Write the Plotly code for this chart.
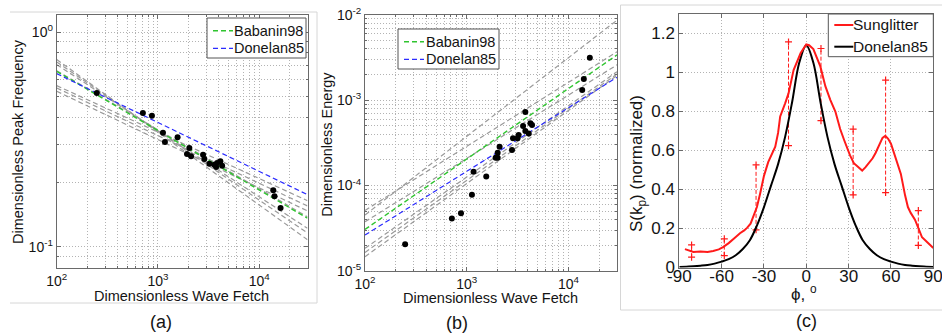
import math
import plotly.graph_objects as go

W, H = 942, 333


def px(x):
    return x / W


def py(y):
    return 1 - y / H


# ---------------- data: panel (a) ----------------
fetch_a = [249, 710, 872, 1121, 1172, 1563, 2042, 1936, 2123, 2790, 2874, 3220,
           3608, 3750, 3838, 4137, 4305, 13770, 14170, 16260]
freq_a = [0.520, 0.420, 0.408, 0.340, 0.308, 0.3235, 0.2887, 0.2708, 0.2638, 0.2687,
          0.2566, 0.244, 0.2414, 0.2355, 0.2459, 0.250, 0.2388, 0.1834, 0.1719, 0.1518]

fetch_ends = [100, 30000]
babanin_fp = [0.656, 0.136]
donelan_fp = [0.640, 0.175]
gray_fp = [[0.745, 0.108], [0.725, 0.116], [0.705, 0.122], [0.660, 0.138],
           [0.563, 0.164], [0.549, 0.155], [0.530, 0.147]]

# ---------------- data: panel (b) ----------------
fetch_b = [248, 714, 878, 1125, 1167, 1556, 2104, 2014, 1923, 2014, 2786, 2851, 3162,
           3236, 3581, 3767, 3767, 4064, 4227, 4385, 13650, 14160, 16220]
energy_b = [2.04e-5, 4.11e-5, 4.71e-5, 7.78e-5, 1.45e-4, 1.27e-4, 2.85e-4, 2.42e-4,
            2.12e-4, 2.12e-4, 2.60e-4, 3.57e-4, 3.57e-4, 3.91e-4, 4.98e-4, 4.36e-4,
            7.28e-4, 4.08e-4, 5.36e-4, 5.12e-4, 1.32e-3, 1.77e-3, 3.16e-3]

babanin_e = [3.05e-5, 3.40e-3]
donelan_e = [2.62e-5, 1.86e-3]
gray_e = [[5.1e-5, 3.7e-3], [4.5e-5, 8.7e-3], [3.75e-5, 2.6e-3],
          [1.83e-5, 2.16e-3], [1.64e-5, 2.03e-3], [1.46e-5, 1.95e-3]]

# ---------------- data: panel (c) ----------------
phi_sun = [-86, -80, -75, -70, -66, -62, -59, -55, -51, -47, -44, -42, -39.5, -37.5,
           -35, -32.7, -30, -27, -25, -22, -20, -18.5, -15, -12.6, -9, -6, -4, 0, 2,
           5, 8, 10, 13.5, 17, 20.6, 24, 27, 29, 31, 33.7, 36, 39.6, 42, 44.3, 47,
           49, 52, 54, 56, 58, 60, 63, 65, 67, 70, 72, 74, 77, 79, 82, 85, 90]
s_sun = [0.094, 0.080, 0.082, 0.080, 0.085, 0.093, 0.105, 0.125, 0.150, 0.176, 0.190,
         0.203, 0.225, 0.260, 0.310, 0.380, 0.470, 0.540, 0.575, 0.620, 0.690, 0.775,
         0.842, 0.893, 1.012, 1.065, 1.100, 1.144, 1.140, 1.120, 1.070, 1.030, 0.930,
         0.860, 0.800, 0.710, 0.650, 0.610, 0.575, 0.535, 0.520, 0.497, 0.515, 0.535,
         0.560, 0.586, 0.630, 0.665, 0.675, 0.660, 0.635, 0.565, 0.520, 0.480, 0.370,
         0.310, 0.280, 0.245, 0.210, 0.155, 0.135, 0.100]

phi_don = [-90, -85, -80, -75, -70, -65, -60, -55, -50, -45, -40, -35, -30, -25, -20,
           -15, -10, -5, 0, 5, 10, 15, 20, 25, 30, 35, 40, 45, 50, 55, 60, 65, 70, 75,
           80, 85, 90]
s_don = [0.002, 0.004, 0.006, 0.009, 0.013, 0.020, 0.030, 0.043, 0.063, 0.095, 0.140,
         0.215, 0.310, 0.420, 0.530, 0.670, 0.850, 1.050, 1.140, 1.050, 0.850, 0.670,
         0.530, 0.420, 0.310, 0.215, 0.140, 0.095, 0.063, 0.043, 0.030, 0.020, 0.013,
         0.009, 0.006, 0.004, 0.002]

err_phi = [-81.3, -58.1, -35.6, -12.6, 10.4, 33.2, 56.2, 79.4]
err_hi = [0.116, 0.147, 0.526, 1.157, 1.123, 0.710, 0.961, 0.292]
err_lo = [0.053, 0.061, 0.193, 0.625, 0.753, 0.372, 0.384, 0.113]

# ---------------- styles ----------------
FONT = "Liberation Sans, Arial, sans-serif"
TXT = "#141414"
GRID = "#b3b3b3"
GRIDDASH = "1px,2px"
AXL = "#6a6a6a"
GREEN = "#2fc42f"
BLUE = "#2b2bff"
GRAY = "#9a9a9a"
RED = "#ff1a1a"
DASH = "5px,3px"

fig = go.Figure()

# panel (a)
for g in gray_fp:
    fig.add_trace(go.Scatter(x=fetch_ends, y=g, mode="lines", xaxis="x", yaxis="y",
                             line=dict(color=GRAY, width=1.2, dash=DASH), showlegend=False))
fig.add_trace(go.Scatter(x=fetch_ends, y=babanin_fp, mode="lines", name="Babanin98",
                         xaxis="x", yaxis="y", line=dict(color=GREEN, width=1.4, dash=DASH),
                         showlegend=False))
fig.add_trace(go.Scatter(x=fetch_ends, y=donelan_fp, mode="lines", name="Donelan85",
                         xaxis="x", yaxis="y", line=dict(color=BLUE, width=1.2, dash=DASH),
                         showlegend=False))
fig.add_trace(go.Scatter(x=fetch_a, y=freq_a, mode="markers", xaxis="x", yaxis="y",
                         marker=dict(color="black", size=6), showlegend=False))

# panel (b)
for g in gray_e:
    fig.add_trace(go.Scatter(x=fetch_ends, y=g, mode="lines", xaxis="x2", yaxis="y2",
                             line=dict(color=GRAY, width=1.2, dash=DASH), showlegend=False))
fig.add_trace(go.Scatter(x=fetch_ends, y=babanin_e, mode="lines", name="Babanin98",
                         xaxis="x2", yaxis="y2", line=dict(color=GREEN, width=1.4, dash=DASH),
                         showlegend=False))
fig.add_trace(go.Scatter(x=fetch_ends, y=donelan_e, mode="lines", name="Donelan85",
                         xaxis="x2", yaxis="y2", line=dict(color=BLUE, width=1.2, dash=DASH),
                         showlegend=False))
fig.add_trace(go.Scatter(x=fetch_b, y=energy_b, mode="markers", xaxis="x2", yaxis="y2",
                         marker=dict(color="black", size=6), showlegend=False))

# panel (c)
ex, ey = [], []
for p, lo, hi in zip(err_phi, err_lo, err_hi):
    ex += [p, p, None]
    ey += [lo, hi, None]
fig.add_trace(go.Scatter(x=ex, y=ey, mode="lines+markers", xaxis="x3", yaxis="y3",
                         line=dict(color=RED, width=1, dash="4px,2px"),
                         marker=dict(symbol="cross-thin", size=5,
                                     line=dict(color=RED, width=1.2)),
                         showlegend=False))
fig.add_trace(go.Scatter(x=phi_don, y=s_don, mode="lines", name="Donelan85",
                         xaxis="x3", yaxis="y3", line=dict(color="black", width=2, shape="spline"),
                         showlegend=False))
fig.add_trace(go.Scatter(x=phi_sun, y=s_sun, mode="lines", name="Sunglitter",
                         xaxis="x3", yaxis="y3", line=dict(color=RED, width=2),
                         showlegend=False))


def sup(s):
    return "10<sup>%s</sup>" % s


common = dict(showline=True, mirror="ticks", linecolor=AXL, linewidth=1,
              ticks="inside", ticklen=4, tickcolor=AXL, showgrid=True,
              gridcolor=GRID, griddash=GRIDDASH, gridwidth=1, zeroline=False,
              automargin=False, ticklabeloverflow="allow",
              tickfont=dict(family=FONT, size=14, color=TXT))

minor_x = [200, 300, 400, 500, 600, 700, 800, 900, 2000, 3000, 4000, 5000, 6000,
           7000, 8000, 9000, 20000]
minor_ya = [0.08, 0.09, 0.2, 0.3, 0.4, 0.5, 0.6, 0.7, 0.8, 0.9]
minor_yb = []
for dec in [1e-5, 1e-4, 1e-3]:
    minor_yb += [k * dec for k in range(2, 10)]

minor_common = dict(showgrid=True, gridcolor=GRID, griddash=GRIDDASH, gridwidth=1,
                    ticks="inside", ticklen=2, tickcolor=AXL)

layout = dict(
    width=W, height=H, margin=dict(l=0, r=0, t=0, b=0),
    paper_bgcolor="white", plot_bgcolor="white", showlegend=False,
    xaxis=dict(common, domain=[px(56.7), px(307.5)], type="log",
               range=[2, math.log10(30000)], anchor="y",
               tickmode="array", tickvals=[100, 1000, 10000],
               ticktext=[sup(2), sup(3), sup(4)],
               minor=dict(minor_common, tickmode="array", tickvals=minor_x)),
    yaxis=dict(common, domain=[py(267.7), py(15)], type="log",
               range=[math.log10(0.08), math.log10(1.2)], anchor="x",
               tickmode="array", tickvals=[0.1, 1], ticktext=[sup("-1"), sup(0)],
               minor=dict(minor_common, tickmode="array", tickvals=minor_ya)),
    xaxis2=dict(common, domain=[px(365), px(617)], type="log",
                range=[2, math.log10(30000)], anchor="y2",
                tickmode="array", tickvals=[100, 1000, 10000],
                ticktext=[sup(2), sup(3), sup(4)],
                minor=dict(minor_common, tickmode="array", tickvals=minor_x)),
    yaxis2=dict(common, domain=[py(270.7), py(15)], type="log",
                range=[-5, -2], anchor="x2",
                tickmode="array", tickvals=[1e-5, 1e-4, 1e-3, 1e-2],
                ticktext=[sup("-5"), sup("-4"), sup("-3"), sup("-2")],
                minor=dict(minor_common, tickmode="array", tickvals=minor_yb)),
    xaxis3=dict(common, domain=[px(679.3), px(933.3)], range=[-90, 90], anchor="y3",
                tickmode="array", tickvals=[-90, -60, -30, 0, 30, 60, 90],
                ticktext=["-90", "-60", "-30", "0", "30", "60", "90"],
                ticklabelstandoff=-7,
                tickfont=dict(family=FONT, size=17, color=TXT)),
    yaxis3=dict(common, domain=[py(267.5), py(14)], range=[0, 1.3], anchor="x3",
                tickmode="array", tickvals=[0, 0.2, 0.4, 0.6, 0.8, 1.0, 1.2],
                ticktext=["0", "0.2", "0.4", "0.6", "0.8", "1", "1.2"],
                tickfont=dict(family=FONT, size=17, color=TXT)),
)

shapes = []
annotations = []

# sub-image frame lines
FR = "#d6d6d6"
for (x0, y0, x1, y1) in [(10, 12, 317, 12), (10, 303, 317, 303), (317, 12, 317, 303),
                         (620.5, 5, 620.5, 310), (620.5, 5, 942, 5), (620.5, 310, 942, 310)]:
    shapes.append(dict(type="line", xref="paper", yref="paper", x0=px(x0), y0=py(y0),
                       x1=px(x1), y1=py(y1), line=dict(color=FR, width=1), layer="below"))


def legend_box(x0, y0, x1, y1, items, fs, sample_w, text_x):
    shapes.append(dict(type="rect", xref="paper", yref="paper", x0=px(x0), y0=py(y0),
                       x1=px(x1), y1=py(y1), fillcolor="white",
                       line=dict(color="#555555", width=1), layer="above"))
    for (label, color, dash, width, yc) in items:
        shapes.append(dict(type="line", xref="paper", yref="paper",
                           x0=px(x0 + 6), x1=px(x0 + 6 + sample_w), y0=py(yc), y1=py(yc),
                           line=dict(color=color, width=width, dash=dash), layer="above"))
        annotations.append(dict(text=label, xref="paper", yref="paper", x=px(text_x),
                                y=py(yc), xanchor="left", yanchor="middle", showarrow=False,
                                font=dict(family=FONT, size=fs, color=TXT)))


legend_box(207, 18, 306, 58,
           [("Babanin98", GREEN, DASH, 1.4, 30.7), ("Donelan85", BLUE, DASH, 1.2, 48.3)],
           14.5, 20, 232)
legend_box(398, 29, 499, 69,
           [("Babanin98", GREEN, DASH, 1.4, 41.7), ("Donelan85", BLUE, DASH, 1.2, 59.3)],
           14.5, 20, 424)
legend_box(828.3, 14, 933.3, 56.7,
           [("Sunglitter", RED, "solid", 2, 25), ("Donelan85", "black", "solid", 2, 46.7)],
           15.5, 19, 851)


def ann(text, x, y, size, angle=0):
    annotations.append(dict(text=text, xref="paper", yref="paper", x=px(x), y=py(y),
                            xanchor="center", yanchor="middle", showarrow=False,
                            textangle=angle, font=dict(family=FONT, size=size, color=TXT)))


ann("Dimensionless Wave Fetch", 181, 295.7, 14.5)
ann("Dimensionless Peak Frequency", 18, 142, 14.5, -90)
ann("Dimensionless Wave Fetch", 490, 298, 14.5)
ann("Dimensionless Energy", 326.7, 144, 14.5, -90)
ann("ϕ, <sup>o</sup>", 804, 293, 17)
ann("S(k<sub>p</sub>) (normalized)", 638, 164, 17, -90)
ann("(a)", 161, 322, 18)
ann("(b)", 457, 323, 18)
ann("(c)", 806.7, 321, 18)

layout["shapes"] = shapes
layout["annotations"] = annotations
fig.update_layout(**layout)

fig.write_html("out.html", config={"displayModeBar": False},
               post_script="document.body.style.margin='0px';"
                           "document.body.style.overflow='hidden';")
